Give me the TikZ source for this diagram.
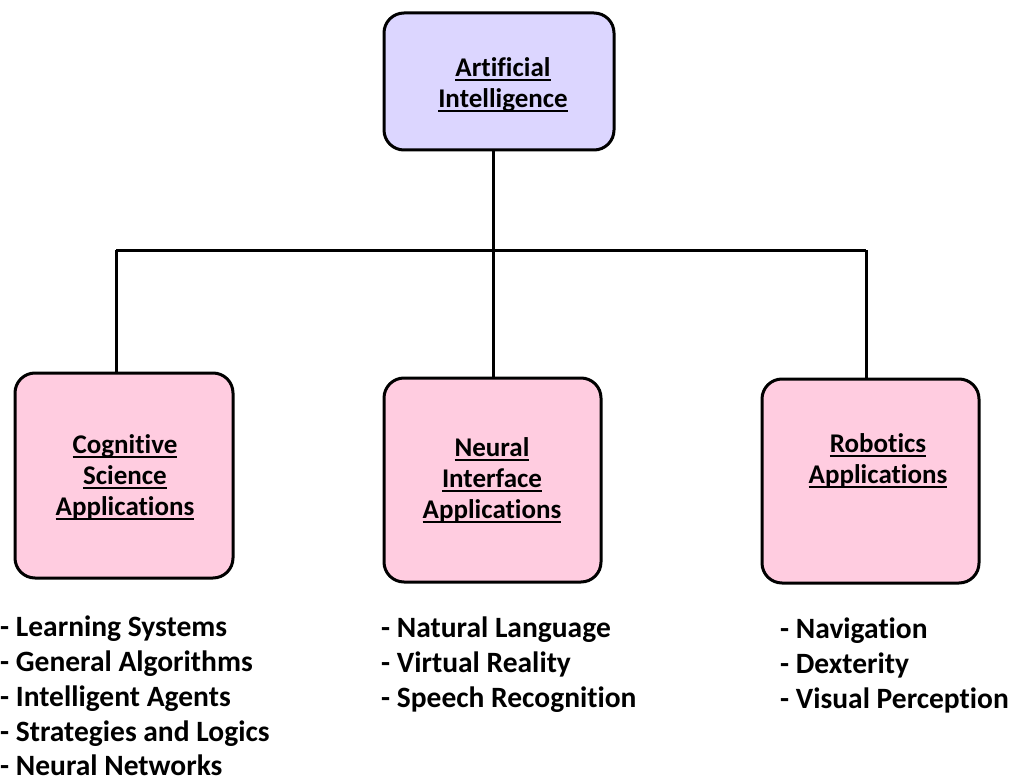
\documentclass[tikz,border=0pt]{standalone}
\usepackage{fontspec}
\setmainfont{Carlito}[Ligatures=NoCommon]
\newcommand\ulbar[1]{\setbox0\hbox{#1}\rlap{\rule[-4.5pt]{\wd0}{1.8pt}}\box0}
\definecolor{rootfill}{RGB}{220,214,255}
\definecolor{leaffill}{RGB}{255,204,224}
\tikzset{
  box/.style={draw=black, line width=3pt, rounded corners=20pt, inner sep=0pt},
  head/.style={font=\bfseries\fontsize{27}{31}\selectfont, align=center},
  items/.style={font=\bfseries\fontsize{29.5}{34.7}\selectfont, align=left, anchor=north west, inner sep=0pt},
  link/.style={line width=3pt}
}
\begin{document}
\begin{tikzpicture}[x=1pt,y=-1pt]
\useasboundingbox (0,0) rectangle (1014,778);
% boxes
\node[box, fill=rootfill, minimum width=230pt, minimum height=137pt] (ai) at (499,81.5) {};
\node[box, fill=leaffill, minimum width=218pt, minimum height=205pt] (cog) at (124,475.5) {};
\node[box, fill=leaffill, minimum width=217pt, minimum height=204pt] (neu) at (492.5,480) {};
\node[box, fill=leaffill, minimum width=217pt, minimum height=204pt] (rob) at (870.5,481) {};
% titles
\node[head] (aiT) at (503,85) {\ulbar{Artificial}\\\ulbar{Intelligence}};
\node[head] (cogT) at (125,477) {\ulbar{Cognitive}\\\ulbar{Science}\\\ulbar{Applications}};
\node[head] (neuT) at (492,480) {\ulbar{Neural}\\\ulbar{Interface}\\\ulbar{Applications}};
\node[head] (robT) at (878,461) {\ulbar{Robotics}\\\ulbar{Applications}};
% connectors
\coordinate (hub) at (493,250);
\coordinate (hl) at (116,250);
\coordinate (hr) at (866,250);
\draw[link] (ai.south -| hub) -- (hub);
\draw[link] (hl) -- (hr);
\draw[link] (hl) -- (hl |- cog.north);
\draw[link] (hub) -- (hub |- neu.north);
\draw[link] (hr) -- (hr |- rob.north);
% item lists
\node[items, text depth=0pt] (cogL) at (0,616) {- Learning Systems\\- General Algorithms\\- Intelligent Agents\\- Strategies and Logics\\- Neural Networks};
\node[items] (neuL) at (381,617) {- Natural Language\\- Virtual Reality\\- Speech Recognition};
\node[items] (robL) at (780,618) {- Navigation\\- Dexterity\\- Visual Perception};
\end{tikzpicture}
\end{document}
